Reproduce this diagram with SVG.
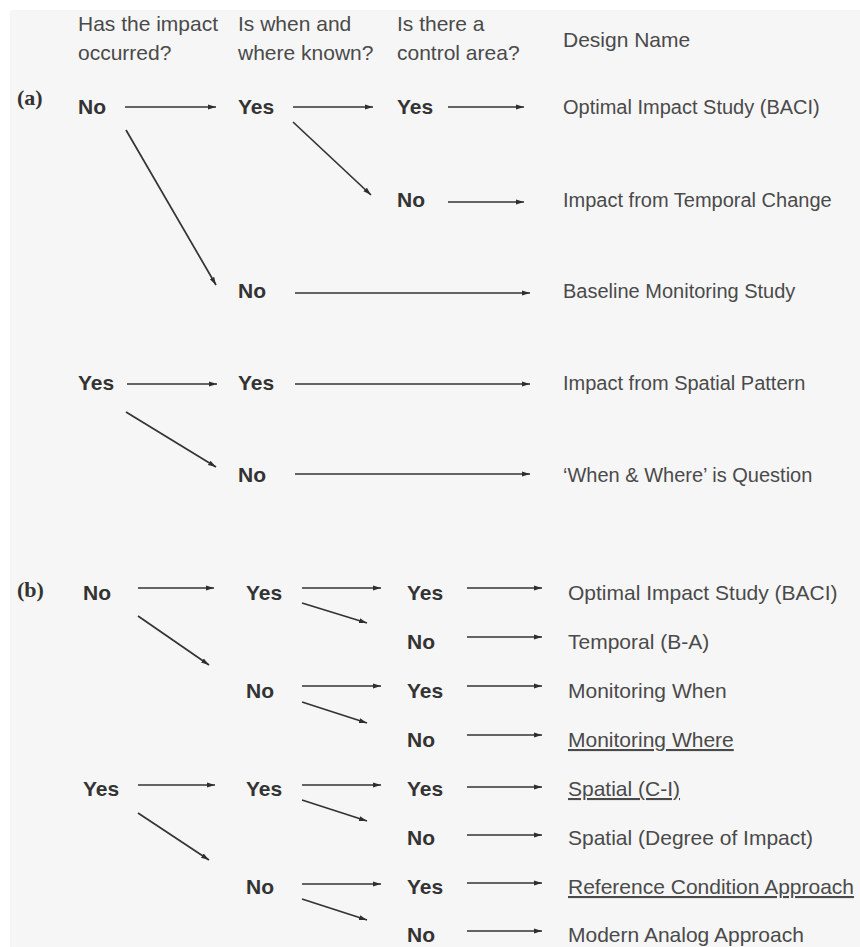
<svg xmlns="http://www.w3.org/2000/svg" width="860" height="947" viewBox="0 0 860 947">
  <style>
    .hd { font-family: "Liberation Sans", Arial, sans-serif; font-size: 21px; fill: #4a4a4a; }
    .ans { font-family: "Liberation Sans", Arial, sans-serif; font-size: 21px; font-weight: bold; fill: #333; }
    .nmA { font-family: "Liberation Sans", Arial, sans-serif; font-size: 20px; fill: #4a4a4a; }
    .nmB { font-family: "Liberation Sans", Arial, sans-serif; font-size: 21px; fill: #4a4a4a; }
    .ul { text-decoration: underline; }
    .tag { font-family: "Liberation Serif", "Times New Roman", serif; font-size: 22px; font-weight: bold; fill: #333; }
    .con line { stroke: #333; stroke-width: 1.7; fill: none; marker-end: url(#ah); }
  </style>
  <defs>
    <marker id="ah" markerUnits="userSpaceOnUse" markerWidth="9" markerHeight="6" refX="8" refY="3" orient="auto">
      <path d="M0,0.5 L8,3 L0,5.5 z" fill="#2e2e2e"/>
    </marker>
  </defs>

  <rect x="0" y="0" width="860" height="947" fill="#ffffff"/>
  <rect x="10" y="10" width="850" height="937" fill="#f6f6f6"/>

  <!-- column headings -->
  <g id="headings">
    <text class="hd" x="78" y="31">Has the impact</text>
    <text class="hd" x="78" y="60">occurred?</text>
    <text class="hd" x="238" y="31">Is when and</text>
    <text class="hd" x="238" y="60">where known?</text>
    <text class="hd" x="397" y="31">Is there a</text>
    <text class="hd" x="397" y="60">control area?</text>
    <text class="hd" x="563" y="47">Design Name</text>
  </g>

  <!-- panel (a) -->
  <g id="label-a"><text class="tag" x="17" y="105">(a)</text></g>
  <g id="a-no"><text class="ans" x="78" y="114">No</text></g>
  <g id="a-no-yes"><text class="ans" x="238" y="114">Yes</text></g>
  <g id="a-no-yes-yes"><text class="ans" x="397" y="114">Yes</text></g>
  <g id="a-no-yes-no"><text class="ans" x="397" y="207">No</text></g>
  <g id="a-no-no"><text class="ans" x="238" y="298">No</text></g>
  <g id="a-yes"><text class="ans" x="78" y="390">Yes</text></g>
  <g id="a-yes-yes"><text class="ans" x="238" y="390">Yes</text></g>
  <g id="a-yes-no"><text class="ans" x="238" y="482">No</text></g>

  <g id="a-design-baci"><text class="nmA" x="563" y="114">Optimal Impact Study (BACI)</text></g>
  <g id="a-design-temporal"><text class="nmA" x="563" y="207">Impact from Temporal Change</text></g>
  <g id="a-design-baseline"><text class="nmA" x="563" y="298">Baseline Monitoring Study</text></g>
  <g id="a-design-spatial"><text class="nmA" x="563" y="390">Impact from Spatial Pattern</text></g>
  <g id="a-design-question"><text class="nmA" x="563" y="482">‘When &amp; Where’ is Question</text></g>

  <!-- panel (b) -->
  <g id="label-b"><text class="tag" x="17" y="597">(b)</text></g>
  <g id="b-no"><text class="ans" x="83" y="600">No</text></g>
  <g id="b-no-yes"><text class="ans" x="246" y="600">Yes</text></g>
  <g id="b-no-yes-yes"><text class="ans" x="407" y="600">Yes</text></g>
  <g id="b-no-yes-no"><text class="ans" x="407" y="649">No</text></g>
  <g id="b-no-no"><text class="ans" x="246" y="698">No</text></g>
  <g id="b-no-no-yes"><text class="ans" x="407" y="698">Yes</text></g>
  <g id="b-no-no-no"><text class="ans" x="407" y="747">No</text></g>
  <g id="b-yes"><text class="ans" x="83" y="796">Yes</text></g>
  <g id="b-yes-yes"><text class="ans" x="246" y="796">Yes</text></g>
  <g id="b-yes-yes-yes"><text class="ans" x="407" y="796">Yes</text></g>
  <g id="b-yes-yes-no"><text class="ans" x="407" y="845">No</text></g>
  <g id="b-yes-no"><text class="ans" x="246" y="894">No</text></g>
  <g id="b-yes-no-yes"><text class="ans" x="407" y="894">Yes</text></g>
  <g id="b-yes-no-no"><text class="ans" x="407" y="942">No</text></g>

  <g id="b-design-baci"><text class="nmB" x="568" y="600">Optimal Impact Study (BACI)</text></g>
  <g id="b-design-temporal"><text class="nmB" x="568" y="649">Temporal (B-A)</text></g>
  <g id="b-design-when"><text class="nmB" x="568" y="698">Monitoring When</text></g>
  <g id="b-design-where"><text class="nmB ul" x="568" y="747">Monitoring Where</text></g>
  <g id="b-design-spatial-ci"><text class="nmB ul" x="568" y="796">Spatial (C-I)</text></g>
  <g id="b-design-spatial-degree"><text class="nmB" x="568" y="845">Spatial (Degree of Impact)</text></g>
  <g id="b-design-reference"><text class="nmB ul" x="568" y="894">Reference Condition Approach</text></g>
  <g id="b-design-analog"><text class="nmB" x="568" y="942">Modern Analog Approach</text></g>

  <!-- connectors -->
  <g id="connectors" class="con">
    <!-- (a) -->
    <line x1="125" y1="107" x2="216" y2="107"/>
    <line x1="293" y1="107" x2="373" y2="107"/>
    <line x1="448" y1="107" x2="524" y2="107"/>
    <line x1="293" y1="122" x2="371" y2="195"/>
    <line x1="448" y1="202" x2="524" y2="202"/>
    <line x1="126" y1="130" x2="216" y2="285"/>
    <line x1="295" y1="293" x2="530" y2="293"/>
    <line x1="127" y1="384" x2="217" y2="384"/>
    <line x1="295" y1="384" x2="530" y2="384"/>
    <line x1="126" y1="412" x2="216" y2="467"/>
    <line x1="295" y1="474" x2="530" y2="474"/>
    <!-- (b) -->
    <line x1="138" y1="588" x2="214" y2="588"/>
    <line x1="302" y1="588" x2="381" y2="588"/>
    <line x1="302" y1="603" x2="367" y2="623"/>
    <line x1="138" y1="616" x2="209" y2="665"/>
    <line x1="302" y1="686" x2="381" y2="686"/>
    <line x1="302" y1="702" x2="367" y2="723"/>
    <line x1="138" y1="785" x2="215" y2="785"/>
    <line x1="302" y1="785" x2="381" y2="785"/>
    <line x1="302" y1="800" x2="367" y2="821"/>
    <line x1="138" y1="813" x2="209" y2="860"/>
    <line x1="302" y1="884" x2="381" y2="884"/>
    <line x1="302" y1="899" x2="367" y2="920"/>
    <line x1="467" y1="588" x2="542" y2="588"/>
    <line x1="467" y1="637" x2="542" y2="637"/>
    <line x1="467" y1="686" x2="542" y2="686"/>
    <line x1="467" y1="735" x2="542" y2="735"/>
    <line x1="467" y1="787" x2="542" y2="787"/>
    <line x1="467" y1="835" x2="542" y2="835"/>
    <line x1="467" y1="883" x2="542" y2="883"/>
    <line x1="467" y1="931" x2="542" y2="931"/>
  </g>
</svg>
